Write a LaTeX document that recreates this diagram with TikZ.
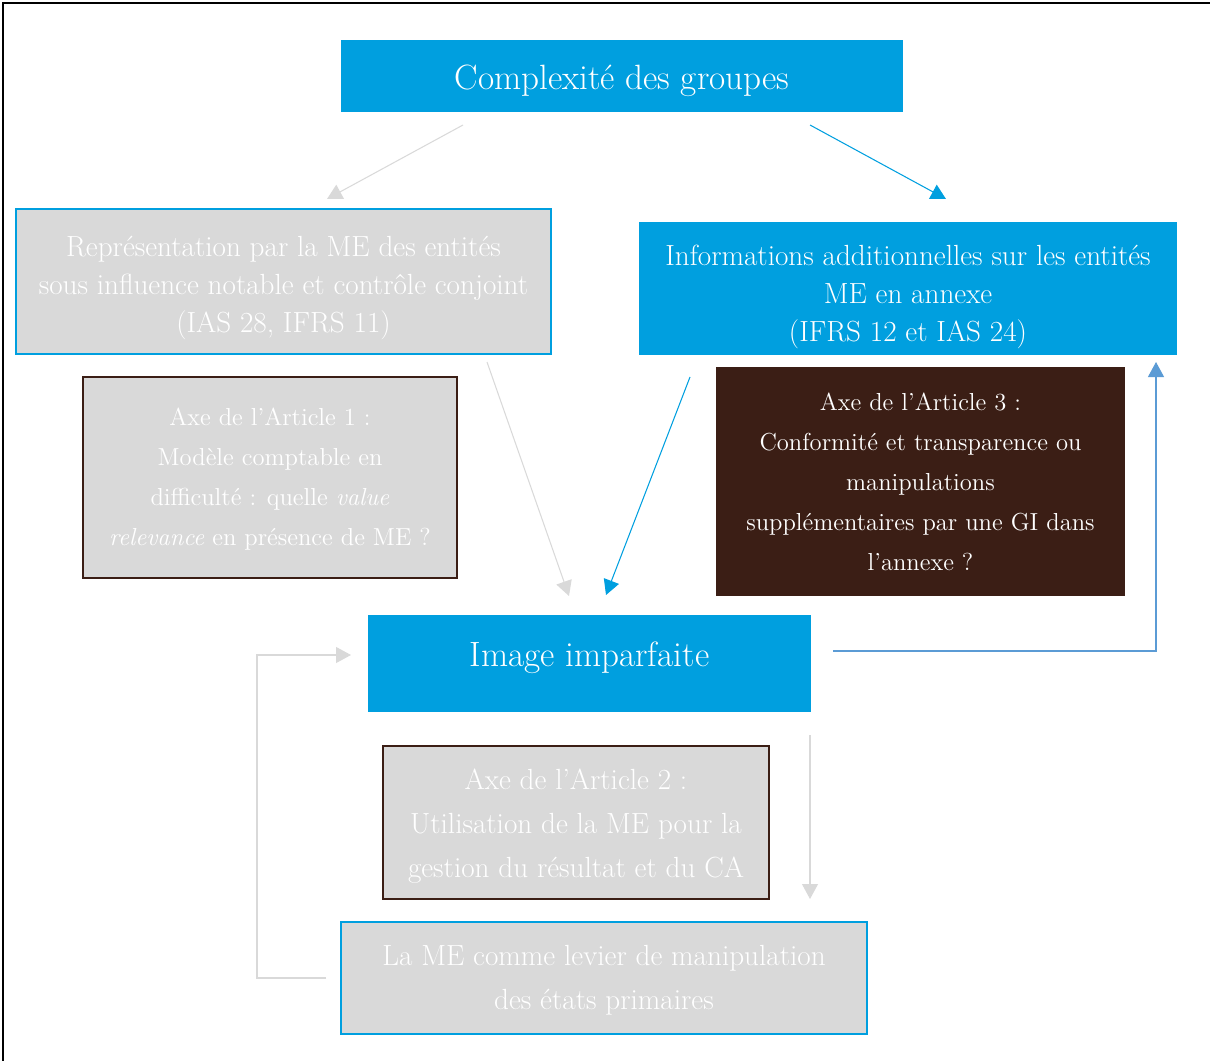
\documentclass[tikz,border=0pt]{standalone}
\usepackage{tikz}
\usetikzlibrary{arrows.meta,positioning}
\definecolor{MainBlue}{HTML}{009FDF}
\definecolor{SoftGrey}{HTML}{D9D9D9}
\definecolor{DarkBrown}{HTML}{3B1E15}
\definecolor{LinkBlue}{HTML}{5B9BD5}
\newcommand{\topgap}[1]{\rule{0pt}{#1}}
\begin{document}
\begin{tikzpicture}[x=0.02cm,y=-0.02cm,
box/.style={rectangle,inner sep=0pt,align=center,text=white},
bluebox/.style={box,fill=MainBlue,font=\fontsize{16.6}{21.6}\selectfont},
greybox/.style={box,fill=SoftGrey,draw=MainBlue,line width=1.2pt,font=\fontsize{16.6}{21.6}\selectfont},
axebox/.style={box,fill=SoftGrey,draw=DarkBrown,line width=1.2pt},
arr/.style={-{Triangle[length=0.3cm,width=0.32cm]},line width=0.6pt}
]
\useasboundingbox (0,0) rectangle (1210,1061);
\draw[line width=1.2pt] (3,1061) -- (3,3) -- (1210,3);

\node[bluebox,minimum width=11.24cm,minimum height=1.44cm,font=\fontsize{20}{24}\selectfont,text height=0.7cm,text depth=0.14cm] (cplx) at (622,76) {Complexit\'e des groupes};
\node[greybox,minimum width=10.7cm,minimum height=2.9cm] (repr) at (283.5,281.5) {\topgap{0.65cm}Repr\'esentation par la ME des entit\'es\\sous influence notable et contr\^ole conjoint\\(IAS 28, IFRS 11)};
\node[bluebox,minimum width=10.76cm,minimum height=2.66cm] (info) at (908,288.5) {\topgap{0.73cm}Informations additionnelles sur les entit\'es\\ME en annexe\\(IFRS 12 et IAS 24)};
\node[axebox,minimum width=7.48cm,minimum height=4.02cm,font=\fontsize{14}{22.8}\selectfont] (axe1) at (270,477.5) {\topgap{0.425cm}Axe de l'Article 1 :\\Mod\`ele comptable en\\difficult\'e : quelle \textit{value}\\\textit{relevance} en pr\'esence de ME ?};
\node[box,fill=DarkBrown,minimum width=8.18cm,minimum height=4.58cm,font=\fontsize{14}{22.8}\selectfont] (axe3) at (920.5,481.5) {Axe de l'Article 3 :\\Conformit\'e et transparence ou\\manipulations\\suppl\'ementaires par une GI dans\\l'annexe ?};
\node[bluebox,minimum width=8.86cm,minimum height=1.94cm,font=\fontsize{20}{24}\selectfont,text height=0.5cm,text depth=0.4cm] (img) at (589.5,663.5) {Image imparfaite};
\node[axebox,minimum width=7.72cm,minimum height=3.06cm,font=\fontsize{16.6}{25}\selectfont] (axe2) at (576,822.5) {\topgap{0.565cm}Axe de l'Article 2 :\\Utilisation de la ME pour la\\gestion du r\'esultat et du CA};
\node[greybox,minimum width=10.52cm,minimum height=2.24cm,font=\fontsize{16.6}{25}\selectfont] (levier) at (604,978) {\topgap{0.485cm}La ME comme levier de manipulation\\des \'etats primaires};

\coordinate (c1) at (463,125);
\coordinate (c2) at (327,199);
\coordinate (c3) at (810,125);
\coordinate (c4) at (946,199);
\coordinate (c5) at (487,362);
\coordinate (c6) at (569,596);
\coordinate (c7) at (690,377);
\coordinate (c8) at (606,595);
\coordinate (c9) at (833,651);
\coordinate (c10) at (1156,362);
\coordinate (c11) at (810,735);
\coordinate (c12) at (810,899);
\coordinate (c13) at (326,978);
\coordinate (c14) at (351,655);

\draw[arr,SoftGrey] (c1) -- (c2);
\draw[arr,MainBlue] (c3) -- (c4);
\draw[arr,SoftGrey] (c5) -- (c6);
\draw[arr,MainBlue] (c7) -- (c8);
\draw[arr,LinkBlue] (c9) -| (c10);
\draw[arr,SoftGrey] (c11) -- (c12);
\draw[arr,SoftGrey] (c13) -- (257,978) |- (c14);
\end{tikzpicture}
\end{document}
